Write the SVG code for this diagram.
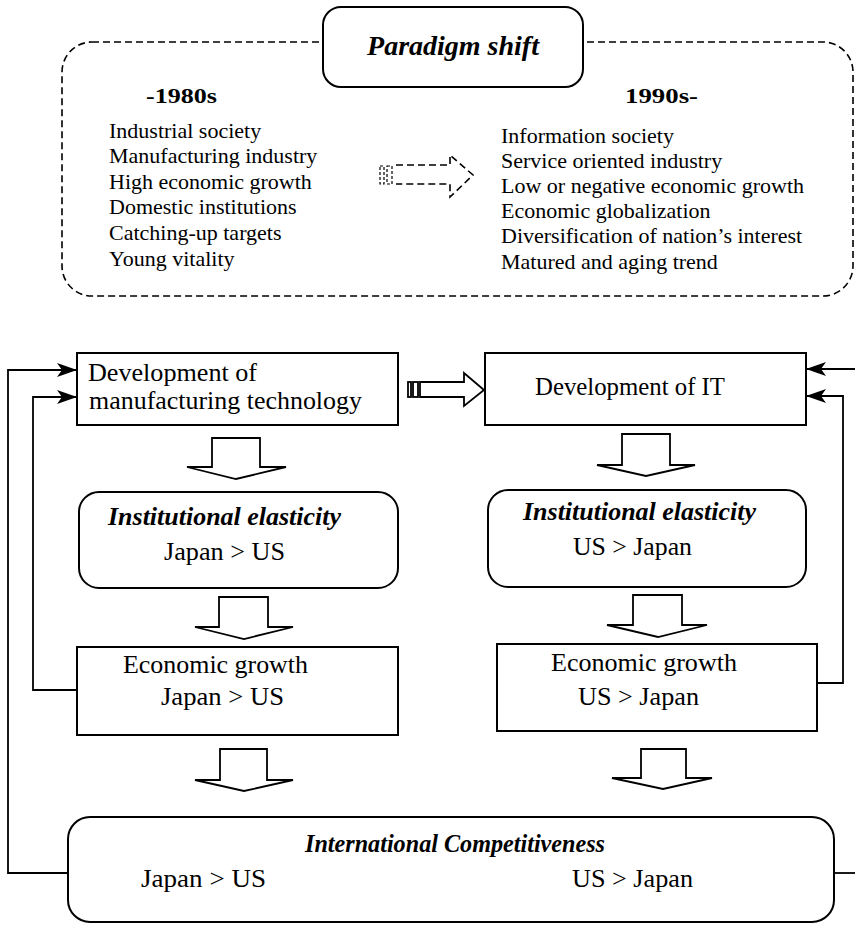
<svg xmlns="http://www.w3.org/2000/svg" width="855" height="928" viewBox="0 0 855 928">
<defs>
<style>
text{font-family:"Liberation Serif","Times New Roman",serif;fill:#000}
.t{font-size:25px}
.l{font-size:22px}
.bi{font-weight:bold;font-style:italic}
.b{font-weight:bold}
.box{fill:#fff;stroke:#000;stroke-width:2}
.blk{fill:#fff;stroke:#000;stroke-width:1.8;stroke-linejoin:miter}
.dash{fill:none;stroke:#000;stroke-width:1.6;stroke-dasharray:7 4}
.con{fill:none;stroke:#000;stroke-width:1.8}
</style>
<marker id="ah" viewBox="0 0 20 14" markerWidth="20" markerHeight="14" refX="20" refY="7" orient="auto" markerUnits="userSpaceOnUse">
<path d="M0,0 L20,7 L0,14 L5,7 z" fill="#000"/>
</marker>
</defs>

<g id="paradigm-frame">
<rect x="62" y="42" width="791" height="254" rx="30" class="dash"/>
</g>
<g id="paradigm-title">
<rect x="323" y="7" width="260" height="80" rx="18" class="box"/>
<text x="453" y="55" text-anchor="middle" class="bi" font-size="28">Paradigm shift</text>
</g>
<g id="era-1980s">
<text x="146" y="103" class="b" font-size="22" textLength="71" lengthAdjust="spacingAndGlyphs">-1980s</text>
<text x="109" y="138" class="l">Industrial society</text>
<text x="109" y="163" class="l">Manufacturing industry</text>
<text x="109" y="189" class="l">High economic growth</text>
<text x="109" y="214" class="l">Domestic institutions</text>
<text x="109" y="240" class="l">Catching-up targets</text>
<text x="109" y="266" class="l">Young vitality</text>
</g>
<g id="era-1990s">
<text x="625" y="103" class="b" font-size="22" textLength="73" lengthAdjust="spacingAndGlyphs">1990s-</text>
<text x="501" y="143" class="l">Information society</text>
<text x="501" y="168" class="l">Service oriented industry</text>
<text x="501" y="193" class="l">Low or negative economic growth</text>
<text x="501" y="218" class="l">Economic globalization</text>
<text x="501" y="243" class="l">Diversification of nation’s interest</text>
<text x="501" y="269" class="l">Matured and aging trend</text>
</g>
<g id="shift-arrow">
<rect x="380" y="166" width="4" height="18" fill="none" stroke="#000" stroke-width="1.2" stroke-dasharray="3 2"/>
<rect x="387" y="166" width="5" height="18" fill="none" stroke="#000" stroke-width="1.2" stroke-dasharray="3 2"/>
<path d="M396,165 H450 V155 L473,175 L450,197 V184 H396" class="dash"/>
</g>

<g id="dev-manufacturing">
<rect x="77" y="353" width="321" height="72" class="box"/>
<text x="88" y="381" class="t" textLength="169" lengthAdjust="spacingAndGlyphs">Development of</text>
<text x="89" y="409" class="t" textLength="273" lengthAdjust="spacingAndGlyphs">manufacturing technology</text>
</g>
<g id="dev-it">
<rect x="485" y="353" width="321" height="72" class="box"/>
<text x="535" y="395" class="t" textLength="190" lengthAdjust="spacingAndGlyphs">Development of IT</text>
</g>
<g id="inst-left">
<rect x="79" y="492" width="319" height="96" rx="20" class="box"/>
<text x="108" y="525" class="t bi" textLength="233" lengthAdjust="spacingAndGlyphs">Institutional elasticity</text>
<text x="164" y="560" class="t" textLength="121" lengthAdjust="spacingAndGlyphs">Japan &gt; US</text>
</g>
<g id="inst-right">
<rect x="488" y="490" width="318" height="97" rx="20" class="box"/>
<text x="523" y="520" class="t bi" textLength="233" lengthAdjust="spacingAndGlyphs">Institutional elasticity</text>
<text x="573" y="555" class="t" textLength="119" lengthAdjust="spacingAndGlyphs">US &gt; Japan</text>
</g>
<g id="econ-left">
<rect x="77" y="647" width="321" height="88" class="box"/>
<text x="123" y="673" class="t" textLength="185" lengthAdjust="spacingAndGlyphs">Economic growth</text>
<text x="161" y="705" class="t" textLength="123" lengthAdjust="spacingAndGlyphs">Japan &gt; US</text>
</g>
<g id="econ-right">
<rect x="497" y="644" width="320" height="87" class="box"/>
<text x="551" y="671" class="t" textLength="186" lengthAdjust="spacingAndGlyphs">Economic growth</text>
<text x="578" y="705" class="t" textLength="121" lengthAdjust="spacingAndGlyphs">US &gt; Japan</text>
</g>
<g id="intl-competitiveness">
<rect x="68" y="817" width="766" height="105" rx="22" class="box"/>
<text x="305" y="852" class="t bi" textLength="300" lengthAdjust="spacingAndGlyphs">International Competitiveness</text>
<text x="141" y="887" class="t" textLength="125" lengthAdjust="spacingAndGlyphs">Japan &gt; US</text>
<text x="572" y="887" class="t" textLength="121" lengthAdjust="spacingAndGlyphs">US &gt; Japan</text>
</g>

<g id="connectors">
<rect x="408" y="382" width="3" height="15" class="blk" stroke-width="1.5"/>
<rect x="413" y="382" width="5" height="15" class="blk" stroke-width="1.5"/>
<path d="M420,382 H464 V373 L484,390 L464,406 V397 H420 z" class="blk"/>
<path d="M212,438 H260 V467 H286 L236,479 L187,467 H212 z" class="blk"/>
<path d="M622,434 H670 V465 H695 L646,476 L597,465 H622 z" class="blk"/>
<path d="M219,597 H268 V627 H293 L244,639 L195,627 H219 z" class="blk"/>
<path d="M633,595 H682 V625 H707 L658,637 L607,625 H633 z" class="blk"/>
<path d="M220,749 H267 V780 H293 L244,791 L195,780 H220 z" class="blk"/>
<path d="M641,749 H686 V778 H712 L663,789 L612,778 H641 z" class="blk"/>
<path d="M68,873 H8 V370 H77" class="con" marker-end="url(#ah)"/>
<path d="M77,690 H33 V397 H77" class="con" marker-end="url(#ah)"/>
<path d="M855,369 H806" class="con" marker-end="url(#ah)"/>
<path d="M817,683 H843 V396 H806" class="con" marker-end="url(#ah)"/>
<path d="M834,873 H855" class="con"/>
</g>
</svg>
